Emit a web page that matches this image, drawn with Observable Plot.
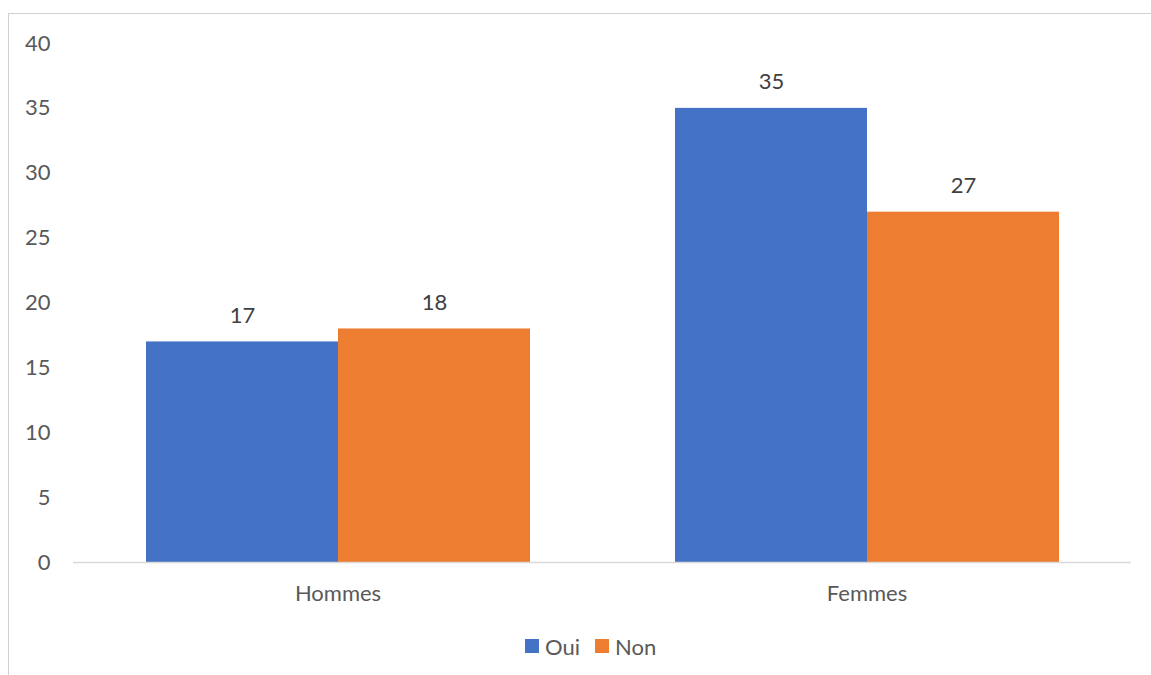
<!DOCTYPE html>
<html>
<head>
<meta charset="utf-8">
<script src="https://cdn.jsdelivr.net/npm/d3@7"></script>
<script src="https://cdn.jsdelivr.net/npm/@observablehq/plot@0.6"></script>
<style>
  html, body { margin: 0; padding: 0; background: #fff; width: 1151px; height: 675px; overflow: hidden; }
  #frame { position: absolute; left: 8px; top: 13px; width: 1160px; height: 700px;
           border-left: 1px solid #d0d0d0; border-top: 1px solid #d0d0d0; }
  #chart { position: absolute; left: 0; top: 0; }
  #legend { position: absolute; left: 516px; top: 618px; height: 28px; display: flex; align-items: center;
            font-family: Lato, "Open Sans", sans-serif; font-size: 22px; color: #595959; }
  .sw { width: 14px; height: 14px; display: inline-block; margin-right: 6px; }
  .item { display: flex; align-items: center; margin-right: 15px; }
</style>
</head>
<body>
<div id="frame"><div id="chart"></div><div id="legend"></div></div>
<script>
const categories = ["Hommes", "Femmes"];
const series = ["Oui", "Non"];
const oui = [17, 35];
const non = [18, 27];
const colors = ["#4472C4", "#ED7D31"];
const yTicks = [0, 5, 10, 15, 20, 25, 30, 35, 40];

const values = [oui, non];
const rows = [];
categories.forEach((c, i) => series.forEach((s, j) => rows.push({category: c, series: s, value: values[j][i]})));

const chart = Plot.plot({
  width: 1142,
  height: 600,
  marginLeft: 64,
  marginRight: 20,
  marginTop: 29,
  marginBottom: 52,
  style: {fontFamily: "Lato, 'Open Sans', sans-serif", fontSize: "22px", color: "#595959", background: "white"},
  fx: {domain: categories, padding: 0, label: null, axis: "bottom", tickSize: 0, tickPadding: 23},
  x: {domain: series, paddingInner: 0, paddingOuter: 0.375, axis: null},
  y: {domain: [0, 40], ticks: yTicks, tickSize: 0, tickPadding: 23, label: null},
  color: {domain: series, range: colors},
  marks: [
    Plot.barY(rows, {fx: "category", x: "series", y: "value", fill: "series"}),
    Plot.ruleY([0], {stroke: "#d9d9d9", strokeWidth: 1.5}),
    Plot.text(rows, {fx: "category", x: "series", y: "value", text: d => String(d.value), dy: -26, fill: "#404040"})
  ]
});
document.getElementById("chart").appendChild(chart);

const legend = document.getElementById("legend");
series.forEach((s, j) => {
  const item = document.createElement("div");
  item.className = "item";
  const sw = document.createElement("span");
  sw.className = "sw";
  sw.style.background = colors[j];
  item.appendChild(sw);
  item.appendChild(document.createTextNode(s));
  legend.appendChild(item);
});
</script>
</body>
</html>
